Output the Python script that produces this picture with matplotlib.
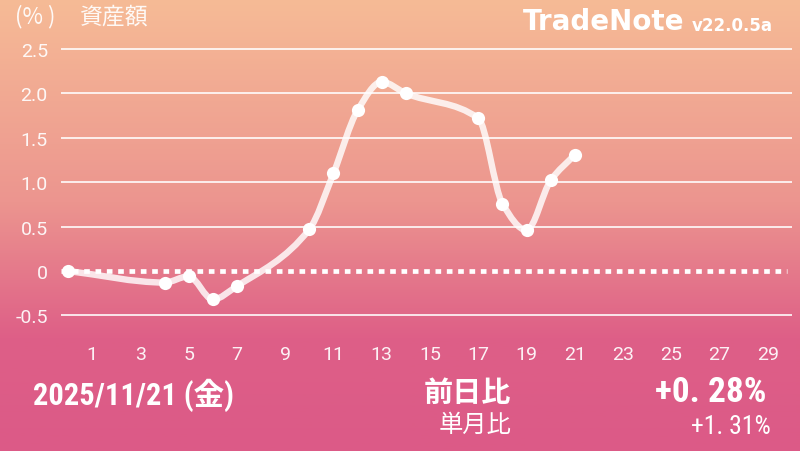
import numpy as np
import matplotlib
matplotlib.use("Agg")
import matplotlib.pyplot as plt
from matplotlib.path import Path
from matplotlib.patches import PathPatch
from matplotlib.colors import LinearSegmentedColormap

# ---- data ----
days = [0, 4, 5, 6, 7, 10, 11, 12, 13, 14, 17, 18, 19, 20, 21]
values = [0.0, -0.13, -0.06, -0.32, -0.17, 0.47, 1.10, 1.81, 2.13, 2.00, 1.72, 0.76, 0.46, 1.02, 1.31]
yticks = [-0.5, 0.5, 1.0, 1.5, 2.0, 2.5]
ytick_labels = ["-0.5", "0.5", "1.0", "1.5", "2.0", "2.5"]
xticks = list(range(1, 30, 2))
unit_text = "(% )"
title_text = "資産額"
brand = "TradeNote"
version = "v22.0.5a"
date_text = "2025/11/21 (金)"
day_label = "前日比"
month_label = "単月比"
day_change = "+0. 28%"
month_change = "+1. 31%"

W, H = 800, 452
fig = plt.figure(figsize=(W / 100, H / 100), dpi=100)

# background gradient
bg = fig.add_axes([0, 0, 1, 1])
bg.set_axis_off()
cmap = LinearSegmentedColormap.from_list(
    "g", [(0.0, "#f6bb96"), (0.45, "#ec958f"), (0.75, "#de5f87"), (1.0, "#dc5a87")])
grad = np.linspace(0, 1, 256).reshape(-1, 1)
bg.imshow(grad, aspect="auto", cmap=cmap, extent=[0, 1, 0, 1], origin="upper")
bg.set_xlim(0, 1)
bg.set_ylim(0, 1)

# main axes placed in pixel space
px_per_unit = 88.8
y0_px = 272.0
ylim = (-0.75, 2.75)
top_px = y0_px - ylim[1] * px_per_unit
bot_px = y0_px - ylim[0] * px_per_unit
left_px, right_px = 61, 792
ax = fig.add_axes([left_px / W, (H - bot_px) / H, (right_px - left_px) / W, (bot_px - top_px) / H])
ax.patch.set_alpha(0)
ax.set_xlim(-0.29, 30.0)
ax.set_ylim(*ylim)
for s in ax.spines.values():
    s.set_visible(False)

for yv in yticks:
    ax.axhline(yv, color="white", lw=1.3, alpha=0.9, zorder=1)
ax.plot([-0.29, 29.8], [0, 0], color="white", lw=3.4, dashes=(1.2, 1.2), zorder=2,
        solid_capstyle="butt", dash_capstyle="butt")

# smooth monotone cubic curve through the points (rendered as Bezier path)
x = np.array(days, float)
y = np.array(values, float)
n = len(x)
h = np.diff(x)
d = np.diff(y) / h
m = np.zeros(n)
m[0], m[-1] = d[0], d[-1]
for i in range(1, n - 1):
    if d[i - 1] * d[i] <= 0:
        m[i] = 0
    else:
        w1 = 2 * h[i] + h[i - 1]
        w2 = h[i] + 2 * h[i - 1]
        m[i] = (w1 + w2) / (w1 / d[i - 1] + w2 / d[i])
verts = [(x[0], y[0])]
codes = [Path.MOVETO]
for i in range(n - 1):
    verts += [(x[i] + h[i] / 3, y[i] + m[i] * h[i] / 3),
              (x[i + 1] - h[i] / 3, y[i + 1] - m[i + 1] * h[i] / 3),
              (x[i + 1], y[i + 1])]
    codes += [Path.CURVE4] * 3
ax.add_patch(PathPatch(Path(verts, codes), fill=False, edgecolor=(1, 1, 1, 0.82),
                       lw=4.6, capstyle="round", joinstyle="round", zorder=3))
ax.plot(days, values, "o", color="white", ms=9.5, mec="none", zorder=4)

ax.set_yticks(yticks + [0])
ax.set_yticklabels(ytick_labels + ["0"])
ax.set_xticks(xticks)
ax.set_xticklabels([str(t) for t in xticks])
ax.tick_params(axis="both", length=0, colors="white", labelsize=14)
ax.tick_params(axis="y", pad=9.5)
ax.tick_params(axis="x", pad=5.5)
for lab in ax.get_xticklabels() + ax.get_yticklabels():
    lab.set_fontfamily("Roboto")
    lab.set_color((1, 1, 1, 0.92))

cjk = ["Noto Sans CJK JP", "DejaVu Sans"]
fig.text(15 / W, 1 - 17 / H, unit_text, color=(1, 1, 1, 0.92), fontsize=16,
         family=cjk, va="center", ha="left")
fig.text(80 / W, 1 - 17 / H, title_text, color=(1, 1, 1, 0.92), fontsize=16.5,
         family=cjk, va="center", ha="left")
fig.text(523 / W, 1 - 30 / H, brand, color="white", fontsize=20, weight="bold",
         family="DejaVu Sans", va="baseline", ha="left")
fig.text(692 / W, 1 - 31 / H, version, color="white", fontsize=12, weight="bold",
         family="DejaVu Sans", va="baseline", ha="left")

fig.text(33 / W, 1 - 395 / H, date_text, color="white", fontsize=22, weight="bold",
         family=["Roboto Condensed", "Noto Sans CJK JP", "DejaVu Sans"], va="center", ha="left")
fig.text(511 / W, 1 - 393 / H, day_label, color="white", fontsize=21, weight="bold",
         family=cjk, va="center", ha="right")
fig.text(511 / W, 1 - 425 / H, month_label, color="white", fontsize=17.5,
         family=cjk, va="center", ha="right")
fig.text(766 / W, 1 - 393 / H, day_change, color="white", fontsize=25.5, weight="bold",
         family=["Roboto Condensed", "Roboto", "DejaVu Sans"], va="center", ha="right")
fig.text(771 / W, 1 - 427 / H, month_change, color="white", fontsize=18.5,
         family=["Roboto Condensed", "Roboto", "DejaVu Sans"], va="center", ha="right")

fig.savefig("out.png", dpi=100)
